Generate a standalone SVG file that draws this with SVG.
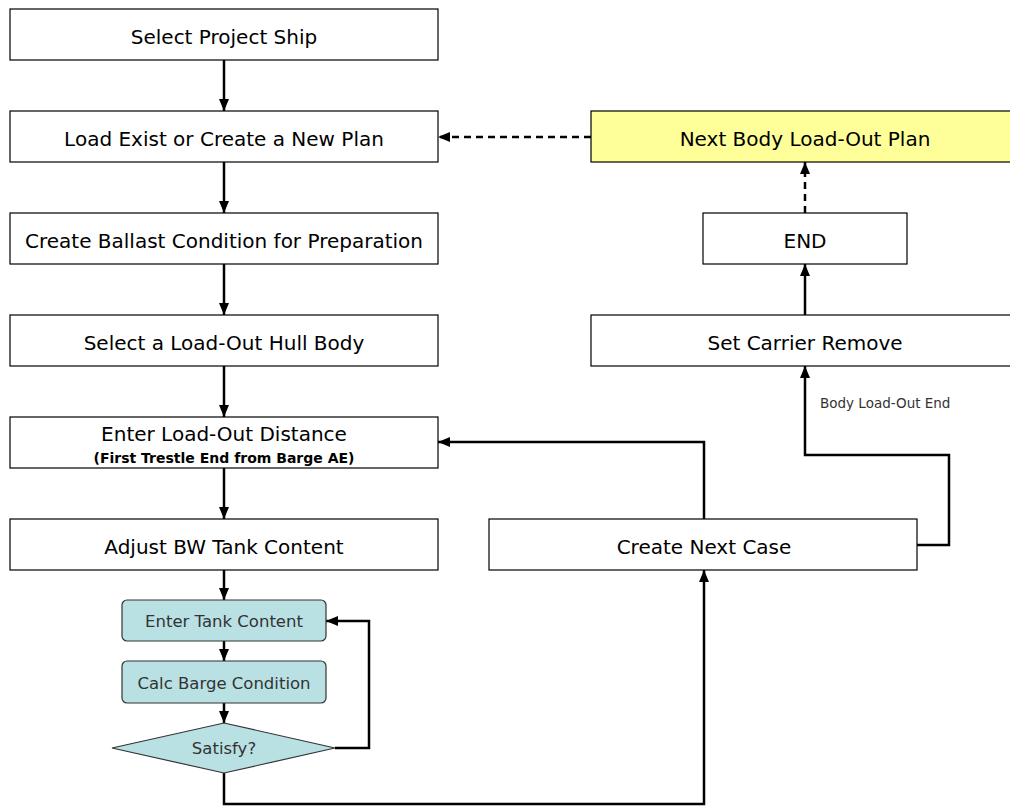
<svg xmlns="http://www.w3.org/2000/svg" width="1010" height="806" viewBox="0 0 1010 806">
<style>
.box{fill:#fff;stroke:#000;stroke-width:1.2}
.teal{fill:#b9e0e3;stroke:#333;stroke-width:1.2}
.yel{fill:#ffff99;stroke:#000;stroke-width:1.2}
.t{font-family:"DejaVu Sans",Arial,sans-serif;font-size:20px;fill:#000;text-anchor:middle}
.s{font-family:"DejaVu Sans",Arial,sans-serif;font-size:14px;font-weight:bold;fill:#000;text-anchor:middle}
.tt{font-family:"DejaVu Sans",Arial,sans-serif;font-size:16.5px;fill:#333;text-anchor:middle}
.lbl{font-family:"DejaVu Sans",Arial,sans-serif;font-size:13.5px;fill:#333}
.c{fill:none;stroke:#000;stroke-width:2.5}
.d{fill:none;stroke:#000;stroke-width:2.5;stroke-dasharray:7 5}
</style>
<defs>
<marker id="ah" viewBox="0 0 12 10" refX="12" refY="5" markerWidth="12" markerHeight="10" markerUnits="userSpaceOnUse" orient="auto">
<path d="M0,0 L12,5 L0,10 Z" fill="#000"/>
</marker>
</defs>
<g id="connectors">
<path class="c" d="M224,60 V111" marker-end="url(#ah)"/>
<path class="c" d="M224,162 V213" marker-end="url(#ah)"/>
<path class="c" d="M224,264 V315" marker-end="url(#ah)"/>
<path class="c" d="M224,366 V417" marker-end="url(#ah)"/>
<path class="c" d="M224,468 V519" marker-end="url(#ah)"/>
<path class="c" d="M224,570 V600" marker-end="url(#ah)"/>
<path class="c" d="M224,641 V661" marker-end="url(#ah)"/>
<path class="c" d="M224,703 V723" marker-end="url(#ah)"/>
<path class="c" d="M335,748 H369 V621 H326" marker-end="url(#ah)"/>
<path class="c" d="M224,773 V804 H704 V570" marker-end="url(#ah)"/>
<path class="c" d="M704,519 V442 H438" marker-end="url(#ah)"/>
<path class="c" d="M917,545 H949 V455 H805 V366" marker-end="url(#ah)"/>
<path class="c" d="M805,315 V264" marker-end="url(#ah)"/>
<path class="d" d="M805,213 V162" marker-end="url(#ah)"/>
<path class="d" d="M591,137 H438" marker-end="url(#ah)"/>
<text class="lbl" x="820" y="408">Body Load-Out End</text>
</g>
<g id="n1"><rect class="box" x="10" y="9" width="428" height="51"/><text class="t" x="224" y="44">Select Project Ship</text></g>
<g id="n2"><rect class="box" x="10" y="111" width="428" height="51"/><text class="t" x="224" y="146">Load Exist or Create a New Plan</text></g>
<g id="n3"><rect class="box" x="10" y="213" width="428" height="51"/><text class="t" x="224" y="248">Create Ballast Condition for Preparation</text></g>
<g id="n4"><rect class="box" x="10" y="315" width="428" height="51"/><text class="t" x="224" y="350">Select a Load-Out Hull Body</text></g>
<g id="n5"><rect class="box" x="10" y="417" width="428" height="51"/><text class="t" x="224" y="441">Enter Load-Out Distance</text><text class="s" x="224" y="463">(First Trestle End from Barge AE)</text></g>
<g id="n6"><rect class="box" x="10" y="519" width="428" height="51"/><text class="t" x="224" y="554">Adjust BW Tank Content</text></g>
<g id="n7"><rect class="teal" x="122" y="600" width="204" height="41" rx="5"/><text class="tt" x="224" y="627">Enter Tank Content</text></g>
<g id="n8"><rect class="teal" x="122" y="661" width="204" height="42" rx="5"/><text class="tt" x="224" y="689">Calc Barge Condition</text></g>
<g id="n9"><polygon class="teal" points="224,723 335,748 224,773 112,748"/><text class="tt" x="224" y="754">Satisfy?</text></g>
<g id="n10"><rect class="box" x="489" y="519" width="428" height="51"/><text class="t" x="704" y="554">Create Next Case</text></g>
<g id="n11"><rect class="box" x="591" y="315" width="428" height="51"/><text class="t" x="805" y="350">Set Carrier Remove</text></g>
<g id="n12"><rect class="box" x="703" y="213" width="204" height="51"/><text class="t" x="805" y="248">END</text></g>
<g id="n13"><rect class="yel" x="591" y="111" width="428" height="51"/><text class="t" x="805" y="146">Next Body Load-Out Plan</text></g>
</svg>
